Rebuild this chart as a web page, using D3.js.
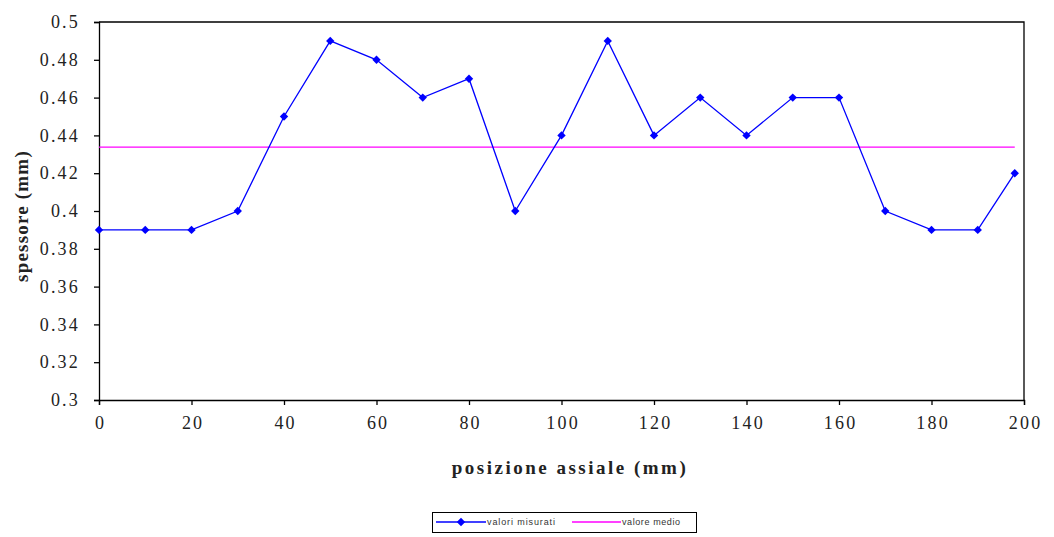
<!DOCTYPE html>
<html>
<head>
<meta charset="utf-8">
<script src="https://cdn.jsdelivr.net/npm/d3@7"></script>
<style>
  html, body { margin: 0; padding: 0; background: #fff; }
  svg { display: block; }
</style>
</head>
<body>
<svg id="chart" width="1054" height="537"></svg>
<script>
// Axial position (mm) and measured thickness (mm)
const positions = [0, 10, 20, 30, 40, 50, 60, 70, 80, 90, 100, 110, 120, 130, 140, 150, 160, 170, 180, 190, 198];
const thickness = [0.39, 0.39, 0.39, 0.40, 0.45, 0.49, 0.48, 0.46, 0.47, 0.40, 0.44, 0.49, 0.44, 0.46, 0.44, 0.46, 0.46, 0.40, 0.39, 0.39, 0.42];
const xTicks = [0, 20, 40, 60, 80, 100, 120, 140, 160, 180, 200];
const yTicks = [0.3, 0.32, 0.34, 0.36, 0.38, 0.4, 0.42, 0.44, 0.46, 0.48, 0.5];
const legendLabels = ["valori misurati", "valore medio"];

const meanValue = d3.mean(thickness);

const svg = d3.select("#chart");
const m = { left: 99, right: 1024, top: 22, bottom: 400 };

const x = d3.scaleLinear().domain([0, 200]).range([m.left, m.right]);
const y = d3.scaleLinear().domain([0.3, 0.5]).range([m.bottom, m.top]);

const serif = "'Liberation Serif', 'Times New Roman', serif";

// plot frame (top and right edges)
svg.append("path")
  .attr("d", `M${m.left},${m.top}H${m.right}V${m.bottom}`)
  .attr("fill", "none").attr("stroke", "#000").attr("stroke-width", 1.3);

// axes
const xAxis = svg.append("g")
  .attr("transform", `translate(0,${m.bottom})`)
  .call(d3.axisBottom(x).tickValues(xTicks).tickSize(5).tickPadding(8).tickFormat(d3.format("d")));
const yAxis = svg.append("g")
  .attr("transform", `translate(${m.left},0)`)
  .call(d3.axisLeft(y).tickValues(yTicks).tickSize(5).tickPadding(14).tickFormat(d => String(+d.toFixed(2))));

[xAxis, yAxis].forEach(g => {
  g.select(".domain").attr("stroke", "#000").attr("stroke-width", 1.3);
  g.selectAll(".tick line").attr("stroke", "#000").attr("stroke-width", 1.3);
  g.selectAll(".tick text").attr("fill", "#222")
    .style("font-family", serif).style("font-size", "18px").style("letter-spacing", "2.2px");
});
xAxis.selectAll(".tick text").attr("dy", "0.9em").attr("dx", "1.1px");

// axis titles
svg.append("text")
  .attr("x", 570).attr("y", 474)
  .attr("text-anchor", "middle")
  .style("font-family", serif).style("font-size", "19px").style("font-weight", "bold")
  .style("letter-spacing", "2.5px").attr("fill", "#222")
  .text("posizione assiale (mm)");

svg.append("text")
  .attr("transform", `translate(28,216) rotate(-90)`)
  .attr("text-anchor", "middle")
  .style("font-family", serif).style("font-size", "19px").style("font-weight", "bold")
  .style("letter-spacing", "1.2px").attr("fill", "#222")
  .text("spessore (mm)");

// mean value line
svg.append("line")
  .attr("x1", x(positions[0])).attr("x2", x(positions[positions.length - 1]))
  .attr("y1", y(meanValue)).attr("y2", y(meanValue))
  .attr("stroke", "#ff00ff").attr("stroke-width", 1.3);

// measured values
const line = d3.line().x((d, i) => x(positions[i])).y(d => y(d));
svg.append("path")
  .datum(thickness)
  .attr("d", line)
  .attr("fill", "none").attr("stroke", "#0000ff").attr("stroke-width", 1.3);

// square diamond marker
const diamond = "M0,-4.2L4.2,0L0,4.2L-4.2,0Z";
svg.append("g").selectAll("path")
  .data(thickness)
  .join("path")
  .attr("transform", (d, i) => `translate(${x(positions[i])},${y(d)})`)
  .attr("d", diamond)
  .attr("fill", "#0000ff");

// legend
const lg = svg.append("g");
lg.append("rect")
  .attr("x", 432.5).attr("y", 512.5).attr("width", 264).attr("height", 20)
  .attr("fill", "#fff").attr("stroke", "#000").attr("stroke-width", 1);

const legendFont = "'Liberation Sans', Arial, sans-serif";
lg.append("line").attr("x1", 436).attr("x2", 486).attr("y1", 522).attr("y2", 522)
  .attr("stroke", "#0000ff").attr("stroke-width", 1.3);
lg.append("path").attr("transform", "translate(461,522)").attr("d", diamond).attr("fill", "#0000ff");
lg.append("text").attr("x", 487).attr("y", 525)
  .style("font-family", legendFont).style("font-size", "9px").attr("fill", "#333")
  .attr("textLength", 68).attr("lengthAdjust", "spacing")
  .text(legendLabels[0]);

lg.append("line").attr("x1", 572).attr("x2", 621).attr("y1", 522).attr("y2", 522)
  .attr("stroke", "#ff00ff").attr("stroke-width", 1.3);
lg.append("text").attr("x", 622).attr("y", 525)
  .style("font-family", legendFont).style("font-size", "9px").attr("fill", "#333")
  .attr("textLength", 58).attr("lengthAdjust", "spacing")
  .text(legendLabels[1]);
</script>
</body>
</html>
